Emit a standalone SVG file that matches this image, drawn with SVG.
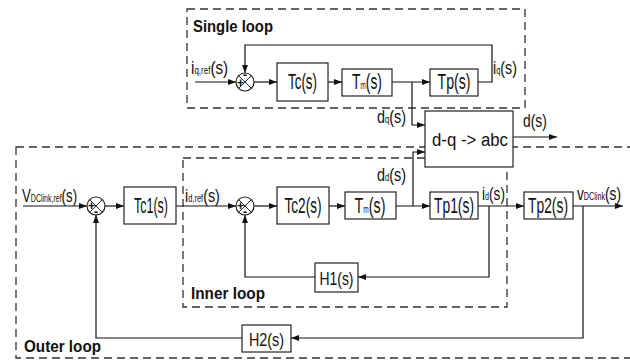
<svg xmlns="http://www.w3.org/2000/svg" width="630" height="360" viewBox="0 0 630 360">
<defs>
<marker id="ah" markerWidth="8" markerHeight="6" refX="8" refY="3" orient="auto" markerUnits="userSpaceOnUse">
<path d="M0,0 L8,3 L0,6 z" fill="#111"/>
</marker>
<style>
.blk{fill:#fff;stroke:#222;stroke-width:1.2}
.dash{fill:none;stroke:#333;stroke-width:1.3;stroke-dasharray:8 5}
.ln{fill:none;stroke:#111;stroke-width:0.9}
.arr{fill:none;stroke:#111;stroke-width:1.2;marker-end:url(#ah)}
text{font-family:"Liberation Sans",Arial,sans-serif;fill:#111}
.lab{font-size:22px;text-anchor:middle}
.hl{font-size:19px;text-anchor:middle}
.sig{font-size:19px}
.sub{font-size:10px}
.ttl{font-size:17px;font-weight:bold}
.sgn{font-size:12px;font-weight:bold;text-anchor:middle}
.sum{fill:#fff;stroke:#222;stroke-width:1.2}
</style>
</defs>
<rect width="630" height="360" fill="#fff"/>

<g id="single-loop-frame">
<rect class="dash" x="187" y="9" width="338" height="99"/>
<text class="ttl" x="193" y="32" textLength="80" lengthAdjust="spacingAndGlyphs">Single loop</text>
</g>
<g id="outer-loop-frame">
<rect class="dash" x="16" y="147" width="625" height="211"/>
<text class="ttl" x="24" y="352" textLength="77" lengthAdjust="spacingAndGlyphs">Outer loop</text>
</g>
<g id="inner-loop-frame">
<rect class="dash" x="183" y="158" width="324" height="149"/>
<text class="ttl" x="191" y="299" textLength="74" lengthAdjust="spacingAndGlyphs">Inner loop</text>
</g>

<g id="connectors">
<path class="arr" d="M195 82 H236"/>
<path class="arr" d="M254 82 H277"/>
<path class="arr" d="M328 82 H342"/>
<path class="arr" d="M392 82 H430"/>
<path class="arr" d="M412 82 V125 H425"/>
<path class="arr" d="M478 82 H492 V45 H245 V73"/>
<path class="arr" d="M513 137 H557"/>
<path class="arr" d="M23 206 H87"/>
<path class="arr" d="M105 206 H124"/>
<path class="arr" d="M176 206 H236"/>
<path class="arr" d="M254 206 H277"/>
<path class="arr" d="M329 206 H345"/>
<path class="arr" d="M396 206 H430"/>
<path class="arr" d="M413 206 V152 H425"/>
<path class="arr" d="M478 206 H524"/>
<path class="arr" d="M573 206 H623"/>
<path class="arr" d="M489 206 V277 H358"/>
<path class="arr" d="M315 277 H245 V215"/>
<path class="arr" d="M583 206 V338 H291"/>
<path class="arr" d="M242 338 H96 V215"/>
</g>

<g id="sum-q">
<circle class="sum" cx="245" cy="82" r="9"/>
<path class="ln" d="M238.6 75.6 L251.4 88.4 M251.4 75.6 L238.6 88.4"/>
<text class="sgn" x="245" y="79">-</text>
<text class="sgn" x="240.5" y="86.5">+</text>
</g>
<g id="tc"><rect class="blk" x="277" y="63" width="51" height="38"/>
<text class="lab" x="302.5" y="89" textLength="29" lengthAdjust="spacingAndGlyphs">Tc(s)</text></g>
<g id="tm-q"><rect class="blk" x="342" y="69" width="50" height="27"/>
<text class="lab" transform="translate(367,89) scale(0.63,1)">T<tspan class="sub">m</tspan>(s)</text></g>
<g id="tp"><rect class="blk" x="430" y="69" width="48" height="27"/>
<text class="lab" x="454" y="89" textLength="33" lengthAdjust="spacingAndGlyphs">Tp(s)</text></g>
<g id="dq-abc"><rect class="blk" x="425" y="111" width="88" height="56"/>
<text class="hl" x="470" y="146" textLength="76" lengthAdjust="spacingAndGlyphs">d-q -&gt; abc</text></g>

<g id="sum-outer">
<circle class="sum" cx="96" cy="206" r="9"/>
<path class="ln" d="M89.6 199.6 L102.4 212.4 M102.4 199.6 L89.6 212.4"/>
<text class="sgn" x="91.5" y="209.5">+</text>
<text class="sgn" x="96" y="216">-</text>
</g>
<g id="tc1"><rect class="blk" x="124" y="187" width="52" height="37"/>
<text class="lab" x="151" y="213" textLength="34" lengthAdjust="spacingAndGlyphs">Tc1(s)</text></g>
<g id="sum-inner">
<circle class="sum" cx="245" cy="206" r="9"/>
<path class="ln" d="M238.6 199.6 L251.4 212.4 M251.4 199.6 L238.6 212.4"/>
<text class="sgn" x="240.5" y="209.5">+</text>
<text class="sgn" x="245" y="216">-</text>
</g>
<g id="tc2"><rect class="blk" x="277" y="187" width="52" height="37"/>
<text class="lab" x="303" y="213" textLength="37" lengthAdjust="spacingAndGlyphs">Tc2(s)</text></g>
<g id="tm-d"><rect class="blk" x="345" y="192" width="51" height="27"/>
<text class="lab" transform="translate(370,213) scale(0.65,1)">T<tspan class="sub">m</tspan>(s)</text></g>
<g id="tp1"><rect class="blk" x="430" y="192" width="48" height="27"/>
<text class="lab" x="454" y="213" textLength="40" lengthAdjust="spacingAndGlyphs">Tp1(s)</text></g>
<g id="tp2"><rect class="blk" x="524" y="192" width="49" height="27"/>
<text class="lab" x="548" y="213" textLength="40" lengthAdjust="spacingAndGlyphs">Tp2(s)</text></g>
<g id="h1"><rect class="blk" x="315" y="263" width="43" height="29"/>
<text class="hl" x="336.5" y="285" textLength="34" lengthAdjust="spacingAndGlyphs">H1(s)</text></g>
<g id="h2"><rect class="blk" x="242" y="325" width="49" height="27"/>
<text class="hl" x="266.5" y="346" textLength="35" lengthAdjust="spacingAndGlyphs">H2(s)</text></g>

<g id="labels">
<text class="sig" transform="translate(191,74) scale(0.8,1)">i<tspan class="sub">q,ref</tspan>(s)</text>
<text class="sig" transform="translate(493,74) scale(0.75,1)">i<tspan class="sub">q</tspan>(s)</text>
<text class="sig" transform="translate(377,123) scale(0.76,1)">d<tspan class="sub">q</tspan>(s)</text>
<text class="sig" transform="translate(523,127) scale(0.73,1)">d(s)</text>
<text class="sig" transform="translate(377,181) scale(0.76,1)">d<tspan class="sub">d</tspan>(s)</text>
<text class="sig" transform="translate(22,202) scale(0.7,1)">V<tspan class="sub">DClink,ref</tspan>(s)</text>
<text class="sig" transform="translate(185,202) scale(0.75,1)">i<tspan class="sub">d,ref</tspan>(s)</text>
<text class="sig" transform="translate(482,200) scale(0.72,1)">i<tspan class="sub">d</tspan>(s)</text>
<text class="sig" transform="translate(577,200) scale(0.72,1)">v<tspan class="sub">DClink</tspan>(s)</text>
</g>
</svg>
